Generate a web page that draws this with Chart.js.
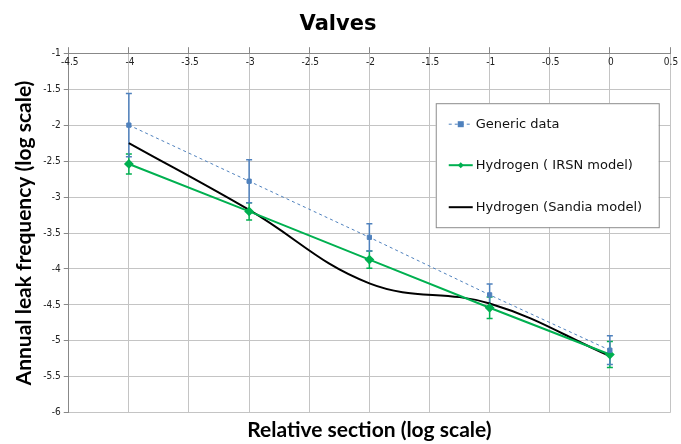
<!DOCTYPE html>
<html>
<head>
<meta charset="utf-8">
<title>Valves</title>
<script src="https://cdn.jsdelivr.net/npm/chart.js@4/dist/chart.umd.min.js"></script>
<style>
  html, body { margin: 0; padding: 0; background: #fff; }
  #wrap { width: 681px; height: 444px; position: relative; }
</style>
</head>
<body>
<div id="wrap"><canvas id="valvesChart"></canvas></div>
<script>
// relative section (log scale)
let sections = [-4, -3, -2, -1, 0]

// annual leak frequency (log scale)
let genericData = [-2.0, -2.78, -3.56, -4.36, -5.13]
let genericErr = [0.44, 0.30, 0.19, 0.15, 0.20]
let irsnData = [-2.54, -3.20, -3.87, -4.54, -5.19]
let irsnErr = [0.14, 0.12, 0.12, 0.15, 0.18]
let sandiaData = [-2.25, -3.18, -4.2, -4.48, -5.21]

let seriesNames = ["Generic data", "Hydrogen ( IRSN model)", "Hydrogen (Sandia model)"]

let xTicks = [-4.5, -4, -3.5, -3, -2.5, -2, -1.5, -1, -0.5, 0, 0.5]
let yTicks = [-6, -5.5, -5, -4.5, -4, -3.5, -3, -2.5, -2, -1.5, -1]

let blue = "#4f81bd"
let green = "#00b050"
let gridColor = "#c4c4c4"
let tickFont = "'DejaVu Sans Condensed', 'DejaVu Sans', sans-serif"
let titleFont = "Lato, 'DejaVu Sans', sans-serif"

function toPoints(values) {
  return values.map(function(v, i) {
    return { x: sections[i], y: v }
  })
}

// error bars for series that have them
let errorBars = {
  id: "errorBars",
  beforeDatasetsDraw: function(chart) {
    let ctx = chart.ctx
    let xs = chart.scales.x
    let ys = chart.scales.y
    let sets = [[irsnData, irsnErr, green], [genericData, genericErr, blue]]
    ctx.save()
    sets.forEach(function(s) {
      ctx.strokeStyle = s[2]
      ctx.lineWidth = 1.5
      s[0].forEach(function(v, i) {
        let px = xs.getPixelForValue(sections[i])
        let top = ys.getPixelForValue(v + s[1][i])
        let bot = ys.getPixelForValue(v - s[1][i])
        ctx.beginPath()
        ctx.moveTo(px, top); ctx.lineTo(px, bot)
        ctx.moveTo(px - 3, top); ctx.lineTo(px + 3, top)
        ctx.moveTo(px - 3, bot); ctx.lineTo(px + 3, bot)
        ctx.stroke()
      })
    })
    ctx.restore()
  }
}

// x tick labels go just under the top axis line, inside the plot
let topLabels = {
  id: "topLabels",
  afterDraw: function(chart) {
    let ctx = chart.ctx
    let xs = chart.scales.x
    ctx.save()
    ctx.font = "10px " + tickFont
    ctx.fillStyle = "#222"
    ctx.textAlign = "center"
    ctx.textBaseline = "middle"
    xTicks.forEach(function(v) {
      ctx.fillText(String(v), xs.getPixelForValue(v) + 1, chart.chartArea.top + 9)
    })
    ctx.restore()
  }
}

// legend box sitting inside the plot, like the original
let boxLegend = {
  id: "boxLegend",
  afterDatasetsDraw: function(chart) {
    let ctx = chart.ctx
    let a = chart.chartArea
    let x0 = a.left + 367
    let y0 = a.top + 50
    let w = 223
    let h = 124
    ctx.save()
    ctx.fillStyle = "#fff"
    ctx.fillRect(x0, y0, w, h)
    ctx.strokeStyle = "#8c8c8c"
    ctx.lineWidth = 1
    ctx.strokeRect(x0 + 0.5, y0 + 0.5, w, h)
    ctx.font = "13px 'DejaVu Sans', sans-serif"
    ctx.textBaseline = "middle"
    ctx.fillStyle = "#111"
    let rows = [21, 62, 104]
    rows.forEach(function(dy, i) {
      let ly = y0 + dy
      let lx = x0 + 13
      ctx.beginPath()
      if (i == 0) {
        ctx.setLineDash([3, 3])
        ctx.strokeStyle = blue
        ctx.lineWidth = 1
      } else if (i == 1) {
        ctx.setLineDash([])
        ctx.strokeStyle = green
        ctx.lineWidth = 2
      } else {
        ctx.setLineDash([])
        ctx.strokeStyle = "#000"
        ctx.lineWidth = 2
      }
      ctx.moveTo(lx, ly); ctx.lineTo(lx + 24, ly)
      ctx.stroke()
      ctx.setLineDash([])
      if (i == 0) {
        ctx.fillStyle = blue
        ctx.fillRect(lx + 9, ly - 3, 6, 6)
      } else if (i == 1) {
        ctx.fillStyle = green
        ctx.beginPath()
        ctx.moveTo(lx + 12, ly - 3); ctx.lineTo(lx + 15, ly)
        ctx.lineTo(lx + 12, ly + 3); ctx.lineTo(lx + 9, ly)
        ctx.fill()
      }
      ctx.fillStyle = "#111"
      ctx.fillText(seriesNames[i], lx + 27, ly)
    })
    ctx.restore()
  }
}

let config = {
  type: "line",
  data: {
    datasets: [
      {
        label: seriesNames[0],
        data: toPoints(genericData),
        borderColor: blue,
        backgroundColor: blue,
        borderWidth: 1,
        borderDash: [3, 3],
        pointStyle: "rect",
        pointRadius: 3,
        tension: 0
      },
      {
        label: seriesNames[1],
        data: toPoints(irsnData),
        borderColor: green,
        backgroundColor: green,
        borderWidth: 2,
        pointStyle: "rectRot",
        pointRadius: 3.5,
        tension: 0
      },
      {
        label: seriesNames[2],
        data: toPoints(sandiaData),
        borderColor: "#000",
        backgroundColor: "#000",
        borderWidth: 2,
        pointRadius: 0,
        tension: 0.4
      }
    ]
  },
  options: {
    responsive: false,
    animation: false,
    layout: { padding: { top: 0, right: 11, bottom: 0, left: 6 } },
    plugins: {
      legend: { display: false },
      tooltip: { enabled: false },
      title: {
        display: true,
        text: "Valves",
        color: "#000",
        font: { family: "Tahoma, 'DejaVu Sans', sans-serif", size: 21, weight: "bold" },
        padding: { top: 12, bottom: 10 }
      }
    },
    scales: {
      x: {
        type: "linear",
        position: "top",
        min: -4.5,
        max: 0.5,
        afterBuildTicks: function(scale) {
          scale.ticks = xTicks.map(function(v) { return { value: v } })
        },
        afterFit: function(scale) {
          scale.height = 6
        },
        ticks: { display: false },
        grid: { color: gridColor, tickColor: "#888", tickLength: 6 },
        border: { color: "#888" }
      },
      xTitle: {
        type: "linear",
        position: "bottom",
        min: -4.5,
        max: 0.5,
        ticks: { display: false },
        grid: { display: false, drawTicks: false },
        border: { display: false },
        title: {
          display: true,
          text: "Relative section (log scale)",
          color: "#000",
          font: { family: titleFont, size: 21, weight: "bold" },
          padding: { top: 5, bottom: 1 }
        }
      },
      y: {
        min: -6,
        max: -1,
        afterBuildTicks: function(scale) {
          scale.ticks = yTicks.map(function(v) { return { value: v } })
        },
        ticks: {
          color: "#222",
          padding: 3,
          font: { family: tickFont, size: 10 },
          callback: function(v) { return String(v) }
        },
        grid: { color: gridColor, tickColor: "#888", tickLength: 5 },
        border: { color: "#888" },
        title: {
          display: true,
          text: "Annual leak frequency (log scale)",
          color: "#000",
          font: { family: titleFont, size: 21, weight: "bold" },
          padding: { top: 6, bottom: 3 }
        }
      }
    }
  },
  plugins: [errorBars, boxLegend, topLabels]
}

let canvas = document.querySelector("#valvesChart")
canvas.width = 681
canvas.height = 444
new Chart(canvas, config)
</script>
</body>
</html>
